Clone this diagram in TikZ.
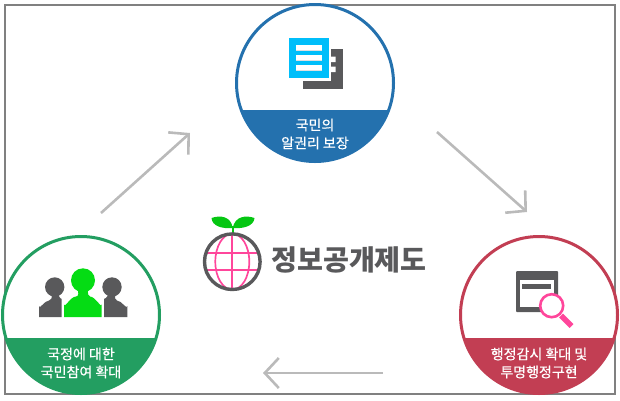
\documentclass[tikz,border=0pt]{standalone}
\usepackage{fontspec}
\newfontfamily\krfont{Noto Sans CJK KR}
\newfontfamily\krband[FakeBold=0.6]{Noto Sans CJK KR}
\usetikzlibrary{arrows.meta}
\definecolor{bluering}{RGB}{36,113,174}
\definecolor{greenring}{RGB}{35,158,97}
\definecolor{redring}{RGB}{194,62,83}
\definecolor{darkicon}{RGB}{89,89,91}
\definecolor{skyicon}{RGB}{0,190,250}
\definecolor{limeicon}{RGB}{5,220,20}
\definecolor{pinkicon}{RGB}{255,70,155}
\tikzset{
    ring/.style={circle,draw=#1,fill=white,line width=3pt,minimum size=157pt,inner sep=0pt},
    bandtext/.style={text=white,font=\krband\fontsize{14}{18}\selectfont,align=center,inner sep=0pt},
    flowarrow/.style={draw=black!27,line width=2.6pt,-{Straight Barb[length=14pt,width=30pt,line width=2.6pt]}},
    logotext/.style={text=darkicon,font=\krfont\bfseries\fontsize{28.2}{30}\selectfont,inner sep=0pt}
}

\begin{document}
\begin{tikzpicture}[x=1pt,y=-1pt]
    \useasboundingbox (0,0) rectangle (620,400);
    \node[draw=black!50,line width=1.4pt,minimum width=610pt,minimum height=389pt,inner sep=0pt] (frame) at (310,199.5) {};

    \foreach \cname/\cx/\cy/\by/\ccol in {info/315/83/110/bluering,people/81/315/338/greenring,audit/539/315/338/redring}{
        \node[ring=\ccol] (\cname) at (\cx,\cy) {};
        \begin{scope}
            \clip (\cx,\cy) circle (79pt);
            \fill[\ccol] (\cx-80,\by) rectangle (\cx+80,\cy+80);
        \end{scope}
    }
    \node[bandtext] (infotext) at (315,134) {국민의\\알권리 보장};
    \node[bandtext] (peopletext) at (81,363) {국정에 대한\\국민참여 확대};
    \node[bandtext] (audittext) at (539,363) {행정감시 확대 및\\투명행정구현};

    % document icon
    \fill[darkicon] (303,49) rectangle (342.5,89);
    \fill[white] (303,49) rectangle (331,80.5);
    \fill[white] (331,56.5) rectangle (335.7,62) (331,66.5) rectangle (335.7,72);
    \fill[skyicon] (289,38) rectangle (329,78);
    \foreach \ly in {45,55,65}{
        \fill[white] (296,\ly) rectangle (322,\ly+5);
        \fill[black!12] (296,\ly+5) rectangle (322,\ly+6);
    }

    % people icon
    \fill[darkicon] (54.7,287) circle (9.7pt) (112,287) circle (9.7pt);
    \fill[darkicon] (39,317) -- (39,306) to[out=-90,in=180] (49,300.5) to[out=0,in=-90] (52,295) -- (58,295) to[out=90,in=180] (61.7,299) -- (61.7,317) -- cycle;
    \fill[darkicon] (127.3,317) -- (127.3,306) to[out=-90,in=0] (117,300.5) to[out=180,in=-90] (115,295) -- (109,295) to[out=90,in=0] (104,299) -- (104,317) -- cycle;
    \fill[limeicon] (83,280.3) circle (12pt);
    \fill[limeicon] (64,317) -- (64,304) to[out=-90,in=180] (76,296.5) to[out=0,in=-90] (78,288) -- (88,288) to[out=90,in=180] (90,296.5) to[out=0,in=-90] (101.7,304) -- (101.7,317) -- cycle;

    % window icon
    \fill[darkicon,rounded corners=1pt] (516,271) rectangle (558,312);
    \fill[white] (520,280) rectangle (554,307);
    \fill[darkicon] (522,284) rectangle (551,289);
    \draw[pinkicon,line width=5.5pt] (561,315.5) -- (571.5,326);
    \draw[pinkicon,fill=white,line width=2.6pt] (551.7,305.7) circle (11.5pt);

    % logo
    \fill[limeicon!90!black] (232.7,228) .. controls (222,229) and (212,226) .. (211.5,218) .. controls (220,215) and (231,216) .. cycle;
    \fill[limeicon!90!black] (232.7,228) .. controls (243,229) and (254,226) .. (254.5,218) .. controls (246,215) and (235,216) .. cycle;
    \draw[limeicon!90!black,line width=2pt] (232.7,226) -- (232.7,235);
    \begin{scope}
        \clip (232.3,261.7) circle (28pt);
        \draw[pinkicon,line width=1.7pt] (200,253.3) -- (265,253.3) (200,270) -- (265,270) (232.3,230) -- (232.3,295);
        \draw[pinkicon,line width=1.7pt] (232.3,261.7) ellipse (17pt and 28pt);
    \end{scope}
    \draw[darkicon,line width=3.4pt] (232.3,261.7) circle (27.8pt);
    \node[logotext,anchor=west] (logo) at (271,259.5) {정보공개제도};

    \coordinate (a1) at (101,213);
    \coordinate (a2) at (190,133);
    \coordinate (b1) at (437,132);
    \coordinate (b2) at (527,212);
    \coordinate (c1) at (383,373);
    \coordinate (c2) at (263,373);
    \draw[flowarrow] (a1) -- (a2);
    \draw[flowarrow] (b1) -- (b2);
    \draw[flowarrow] (c1) -- (c2);
\end{tikzpicture}
\end{document}
